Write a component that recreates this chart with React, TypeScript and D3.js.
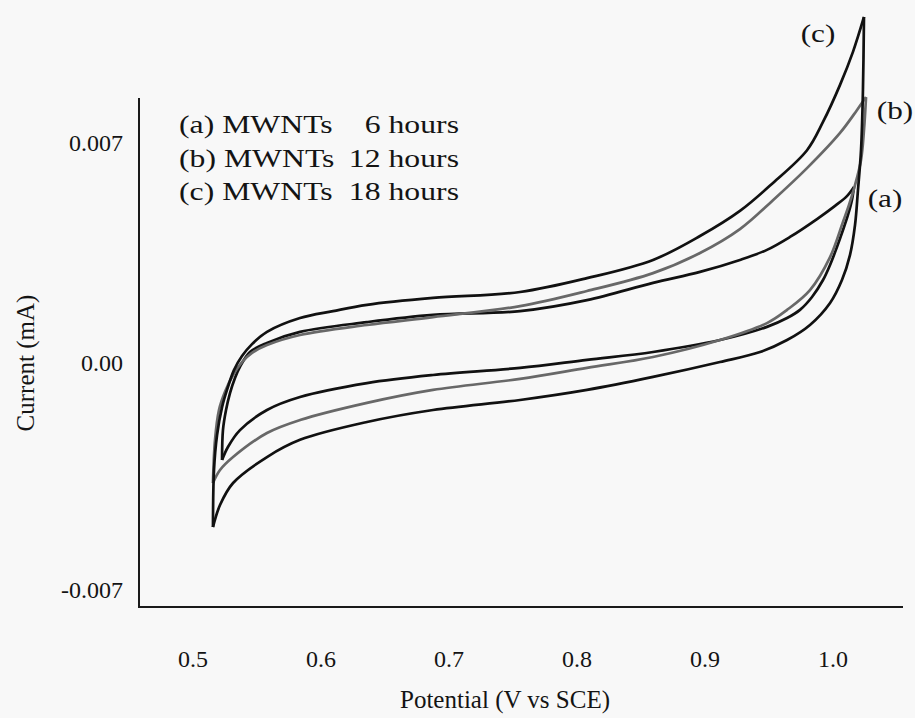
import React from "react";
import * as d3 from "d3";

// ---- data (potential in V vs SCE, current in mA) ----
const xTicks = [0.5, 0.6, 0.7, 0.8, 0.9, 1.0];
const yTicks = [-0.007, 0, 0.007];
const yTickLabels = ["-0.007", "0.00", "0.007"];

const legendNames = ["(a) MWNTs", "(b) MWNTs", "(c) MWNTs"];
const legendHours = ["6 hours", "12 hours", "18 hours"];
const curveTags = ["(a)", "(b)", "(c)"];

// (a) MWNTs 6 hours
const aForward: [number, number][] = [
  [0.5227, -0.00299], [0.5234, -0.00207], [0.5258, -0.00145], [0.5289, -0.00093],
  [0.5328, -0.00046], [0.5367, -0.00012], [0.5445, 0.00035], [0.5578, 0.00064],
  [0.5836, 0.00099], [0.6359, 0.0013], [0.6875, 0.00153], [0.7555, 0.00165],
  [0.8078, 0.002], [0.8594, 0.00255], [0.8961, 0.0029], [0.9273, 0.00328],
  [0.9484, 0.0036], [0.9664, 0.00401], [0.9875, 0.00458], [1.0016, 0.005],
  [1.0109, 0.00531], [1.0164, 0.0056],
];
const aReverse: [number, number][] = [
  [1.0164, 0.0056], [1.0148, 0.00519], [1.0117, 0.00471], [1.0078, 0.00423],
  [1.0031, 0.00369], [0.9977, 0.00312], [0.9922, 0.00264], [0.9836, 0.0021],
  [0.9742, 0.00169], [0.9641, 0.00143], [0.9484, 0.00115], [0.9117, 0.00073],
  [0.8594, 0.00035], [0.8078, 0.0001], [0.7555, -0.00015], [0.6875, -0.00037],
  [0.6359, -0.00062], [0.5836, -0.00105], [0.5578, -0.00145], [0.5367, -0.00207],
  [0.5273, -0.00259], [0.5227, -0.00299],
];

// (b) MWNTs 12 hours
const bForward: [number, number][] = [
  [0.5156, -0.0037], [0.5172, -0.00237], [0.5203, -0.00145], [0.525, -0.00089],
  [0.5313, -0.00037], [0.5383, 0.00003], [0.5461, 0.00032], [0.5578, 0.00057],
  [0.5836, 0.00089], [0.6359, 0.00121], [0.6875, 0.00146], [0.7555, 0.00181],
  [0.8078, 0.00229], [0.8594, 0.00286], [0.8961, 0.0035], [0.9273, 0.00426],
  [0.9531, 0.00518], [0.9797, 0.0062], [1.0055, 0.00732], [1.0188, 0.00805],
  [1.0258, 0.00846],
];
const bReverse: [number, number][] = [
  [1.0258, 0.00846], [1.0242, 0.00741], [1.0219, 0.00646], [1.0172, 0.00566],
  [1.0125, 0.00503], [1.0078, 0.00449], [0.9977, 0.00337], [0.982, 0.00232],
  [0.9641, 0.00169], [0.9484, 0.00127], [0.9117, 0.00073], [0.8594, 0.00019],
  [0.8078, -0.00015], [0.7555, -0.00049], [0.6875, -0.00083], [0.6359, -0.00123],
  [0.5836, -0.00176], [0.5578, -0.00216], [0.5313, -0.0029], [0.5211, -0.0033],
  [0.5156, -0.0037],
];

// (c) MWNTs 18 hours
const cForward: [number, number][] = [
  [0.5156, -0.00506], [0.5164, -0.0033], [0.5188, -0.00222], [0.5227, -0.00136],
  [0.5273, -0.00074], [0.532, -0.00022], [0.5383, 0.00022], [0.5461, 0.0006],
  [0.5578, 0.00099], [0.5836, 0.00143], [0.6094, 0.00165], [0.6359, 0.00185],
  [0.6875, 0.00207], [0.7555, 0.00226], [0.8078, 0.0027], [0.8594, 0.00328],
  [0.8961, 0.00404], [0.9273, 0.00484], [0.9531, 0.00573], [0.9797, 0.00677],
  [0.9922, 0.00767], [1.0055, 0.00885], [1.0156, 0.0099], [1.0242, 0.01101],
];
const cReverse: [number, number][] = [
  [1.0242, 0.01101], [1.0234, 0.00869], [1.0219, 0.00678], [1.0195, 0.0055],
  [1.0172, 0.00439], [1.0133, 0.00344], [1.007, 0.00264], [0.9977, 0.00191],
  [0.982, 0.00121], [0.9641, 0.00073], [0.943, 0.00035], [0.9117, 0.00003],
  [0.8594, -0.00043], [0.8078, -0.00083], [0.7555, -0.00114], [0.6875, -0.00145],
  [0.6359, -0.00182], [0.5836, -0.00237], [0.5578, -0.0029], [0.5313, -0.0037],
  [0.5211, -0.00438], [0.5156, -0.00506],
];

const series = [
  { key: "a", forward: aForward, reverse: aReverse, color: "#111111" },
  { key: "b", forward: bForward, reverse: bReverse, color: "#686868" },
  { key: "c", forward: cForward, reverse: cReverse, color: "#111111" },
];

// ---- layout ----
const W = 915;
const H = 718;
const axisLeft = 139;
const axisTop = 98;
const axisBottom = 607;
const axisRight = 903;
const FONT = "'Liberation Serif', 'Times New Roman', serif";
const TXT = "#141414";

export default function App() {
  const x = d3.scaleLinear().domain([0.5, 1.0]).range([193, 833]);
  const y = d3.scaleLinear().domain([-0.007, 0, 0.007]).range([590, 363, 143]);

  const line = d3
    .line<[number, number]>()
    .x((d) => x(d[0]))
    .y((d) => y(d[1]))
    .curve(d3.curveCatmullRom.alpha(0.5));

  const tagPos = [
    { cx: 885, cy: 200 },
    { cx: 895, cy: 112 },
    { cx: 818, cy: 35 },
  ];

  return (
    <svg
      width={W}
      height={H}
      style={{ position: "absolute", left: 0, top: 0, display: "block", background: "#f8f8f8" }}
    >
      <rect x={0} y={0} width={W} height={H} fill="#f8f8f8" />

      {/* curves */}
      {series.map((s) => (
        <g key={s.key} fill="none" stroke={s.color} strokeWidth={2.7} strokeLinejoin="round">
          <path d={line(s.forward) || ""} />
          <path d={line(s.reverse) || ""} />
        </g>
      ))}

      {/* axes */}
      <line x1={axisLeft} y1={axisTop} x2={axisLeft} y2={axisBottom} stroke="#1a1a1a" strokeWidth={2} />
      <line x1={axisLeft - 1} y1={axisBottom} x2={axisRight} y2={axisBottom} stroke="#1a1a1a" strokeWidth={2} />

      {/* x tick labels */}
      {xTicks.map((t) => (
        <text key={t} x={x(t)} y={667} textAnchor="middle" fontFamily={FONT} fontSize={24} fill={TXT}>
          {d3.format(".1f")(t)}
        </text>
      ))}

      {/* y tick labels */}
      {yTicks.map((t, i) => (
        <text key={t} x={123} y={y(t)} dy="0.34em" textAnchor="end" fontFamily={FONT} fontSize={24} fill={TXT}>
          {yTickLabels[i]}
        </text>
      ))}

      {/* axis titles */}
      <text x={505} y={708} textAnchor="middle" fontFamily={FONT} fontSize={25} fill={TXT}>
        Potential (V vs SCE)
      </text>
      <text
        transform={`translate(34,${y(0)}) rotate(-90)`}
        textAnchor="middle"
        fontFamily={FONT}
        fontSize={25}
        fill={TXT}
      >
        Current (mA)
      </text>

      {/* legend */}
      {legendNames.map((n, i) => (
        <g key={n} fontFamily={FONT} fontSize={26} fill={TXT}>
          <text transform={`translate(179,${133 + i * 33.5}) scale(1.22,1)`}>{n}</text>
          <text transform={`translate(459,${133 + i * 33.5}) scale(1.22,1)`} textAnchor="end">
            {legendHours[i]}
          </text>
        </g>
      ))}

      {/* curve tags */}
      {curveTags.map((t, i) => (
        <text
          key={t}
          transform={`translate(${tagPos[i].cx},${tagPos[i].cy + 7}) scale(1.2,1)`}
          textAnchor="middle"
          fontFamily={FONT}
          fontSize={26}
          fill={TXT}
        >
          {t}
        </text>
      ))}
    </svg>
  );
}
